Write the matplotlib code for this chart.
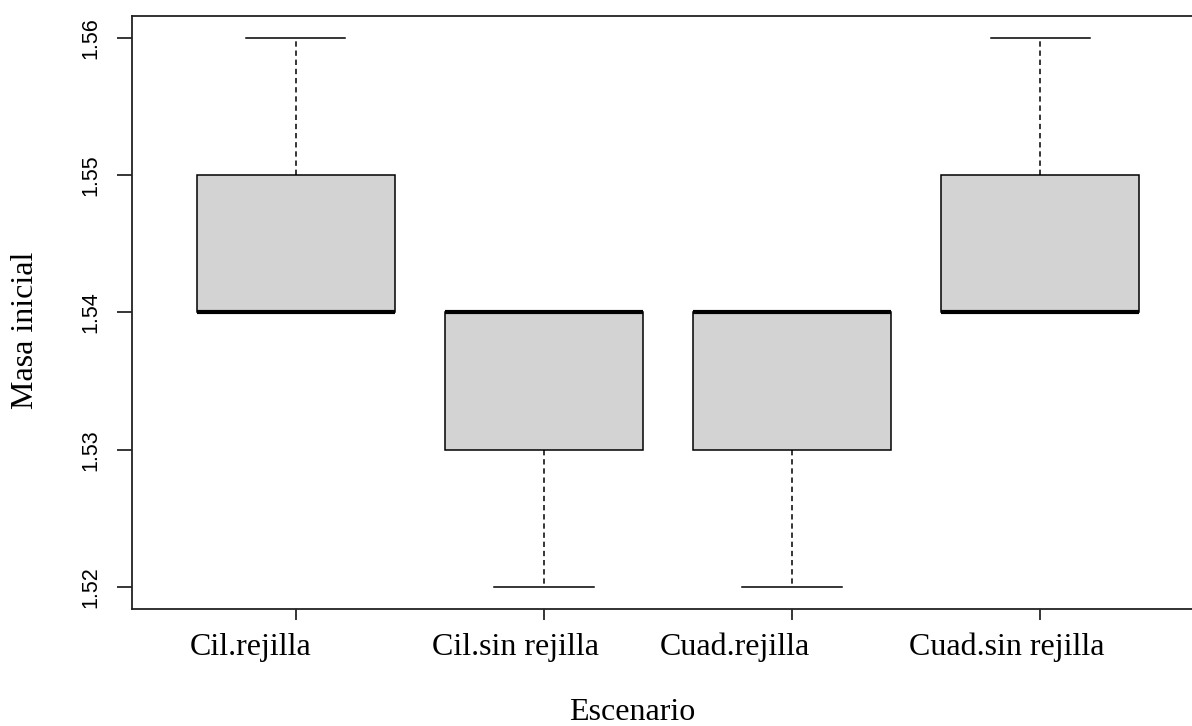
import matplotlib
matplotlib.use("Agg")
import matplotlib.pyplot as plt
import matplotlib.transforms as mtransforms

# data
escenarios = ["Cil.rejilla", "Cil.sin rejilla", "Cuad.rejilla", "Cuad.sin rejilla"]
whislo = [1.54, 1.52, 1.52, 1.54]
q1 = [1.54, 1.53, 1.53, 1.54]
med = [1.54, 1.54, 1.54, 1.54]
q3 = [1.55, 1.54, 1.54, 1.55]
whishi = [1.56, 1.54, 1.54, 1.56]
y_ticks = [1.52, 1.53, 1.54, 1.55, 1.56]

# horizontal shift (px) of each category label, as seen in the reference
label_shift = [-45, -28, -57, -33]

stats = []
for i in range(len(escenarios)):
    stats.append({"label": escenarios[i], "whislo": whislo[i], "q1": q1[i],
                  "med": med[i], "q3": q3[i], "whishi": whishi[i], "fliers": []})

fig = plt.figure(figsize=(11.92, 7.26), dpi=100)
ax = fig.add_axes([132 / 1192, 117 / 726, 1072 / 1192, 593.3 / 726])

ax.bxp(stats, positions=[1, 2, 3, 4], widths=0.8, capwidths=0.4,
       patch_artist=True, showfliers=False,
       boxprops=dict(facecolor="#D3D3D3", edgecolor="black", linewidth=1.1),
       medianprops=dict(color="black", linewidth=3.0, solid_capstyle="butt"),
       whiskerprops=dict(color="black", linewidth=1.1, linestyle=(0, (3.5, 2.5))),
       capprops=dict(color="black", linewidth=1.1))

ax.set_xlim(0.34, 4.66)
ax.set_ylim(1.5184, 1.5616)

ax.set_yticks(y_ticks)
ax.set_yticklabels([f"{v:.2f}" for v in y_ticks], rotation=90, va="center",
                   family="Liberation Sans", fontsize=15.5)
ax.tick_params(axis="y", length=10.8, width=1.1, pad=11)

ax.set_xticks([1, 2, 3, 4])
ax.set_xticklabels(escenarios, family="Liberation Serif", fontsize=23)
ax.tick_params(axis="x", length=8, width=1.1, pad=9)
for lab, dx in zip(ax.get_xticklabels(), label_shift):
    lab.set_transform(lab.get_transform() +
                      mtransforms.ScaledTranslation(dx / 100, 0, fig.dpi_scale_trans))

for s in ax.spines.values():
    s.set_linewidth(1.3)
    s.set_color("#222222")

fig.text(632 / 1192, 1 - 713 / 726, "Escenario", ha="center", va="center",
         family="Liberation Serif", fontsize=23)
fig.text(26 / 1192, 1 - 330 / 726, "Masa inicial", ha="center", va="center",
         rotation=90, family="Liberation Serif", fontsize=23)

fig.savefig("out.png", dpi=100)
